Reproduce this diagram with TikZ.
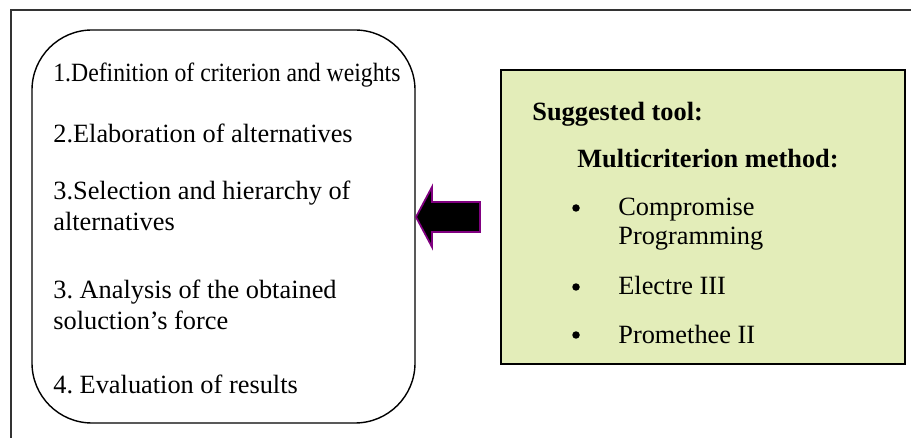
\documentclass[tikz,border=0pt]{standalone}
\usepackage{graphicx}
\usepackage{fontspec}
\setmainfont{Liberation Serif}
\frenchspacing
\definecolor{toolgreen}{RGB}{227,237,185}
\definecolor{arrowpurple}{RGB}{128,0,128}

\begin{document}
\begin{tikzpicture}
[x=0.02cm,y=-0.02cm
,every node/.style={inner sep=0pt,anchor=base west,font=\fontsize{15}{17.6}\selectfont}
,head/.style={font=\fontsize{15}{17.6}\selectfont\bfseries}
,dot/.style={circle,fill,anchor=center,minimum size=0.15cm}
,steps box/.style={draw,line width=0.8pt,rounded corners=1.2cm}
,tool box/.style={draw,line width=1pt,fill=toolgreen}
]

\useasboundingbox (0,0) rectangle (911,438);
\draw [line width=0.6pt,black!80] (911,10) -- (11,10) -- (11,438);

% the steps
\draw [steps box] (32,30) rectangle (415,423);
\node (s1)  at (53,82)  {\scalebox{0.9}[1]{1.Definition of criterion and weights}};
\node (s2)  at (53,143) {2.Elaboration of alternatives};
\node (s3)  at (53,200) {3.Selection and hierarchy of};
\node (s3b) at (53,231) {alternatives};
\node (s4)  at (53,298) {3. Analysis of the obtained};
\node (s4b) at (53,329) {soluction’s force};
\node (s5)  at (53,393) {4. Evaluation of results};

% the tool
\draw [tool box] (501,70) rectangle (905,364);
\node [head] (tool)   at (532,121) {Suggested tool:};
\node [head] (method) at (577,168) {Multicriterion method:};
\node [dot] (b1) at (576,208) {};
\node (m1)  at (618,216) {Compromise};
\node (m1b) at (618,245) {Programming};
\node [dot] (b2) at (576,287) {};
\node (m2)  at (618,295) {Electre III};
\node [dot] (b3) at (576,335) {};
\node (m3)  at (618,343) {Promethee II};

% the block arrow
\draw [fill=black,draw=arrowpurple,line width=1pt]
  (416,217) -- (432,187) -- (432,202) -- (480,202) -- (480,232)
  -- (432,232) -- (432,247) -- cycle;

\end{tikzpicture}
\end{document}
